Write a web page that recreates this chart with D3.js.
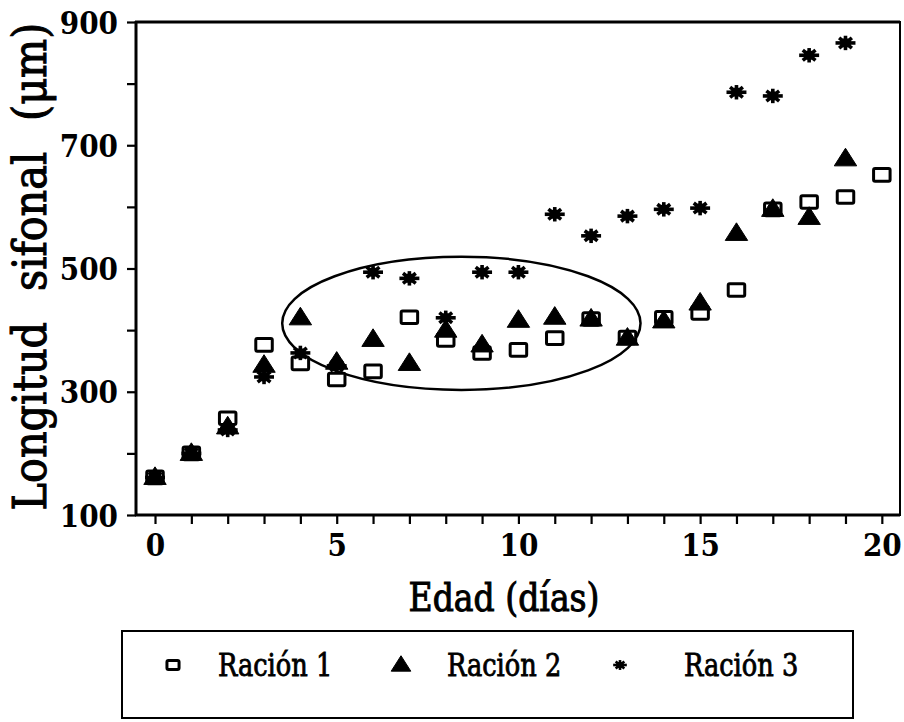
<!DOCTYPE html>
<html>
<head>
<meta charset="utf-8">
<script src="https://cdn.jsdelivr.net/npm/d3@7"></script>
<style>
  html, body { margin: 0; padding: 0; background: #fff; }
  svg { display: block; }
  text { font-family: "DejaVu Serif Condensed", "DejaVu Serif", serif; fill: #000; }
</style>
</head>
<body>
<svg id="chart" width="904" height="722"></svg>
<script>
// ---- data ----
const days = [0,1,2,3,4,5,6,7,8,9,10,11,12,13,14,15,16,17,18,19,20];
const racion1 = [161,200,257,376,346,320,333,421,384,363,368,387,418,388,420,428,465,596,608,616,652];
const racion2 = [161,200,243,343,420,348,385,346,400,376,416,421,418,387,415,444,557,596,583,678];
const racion3 = [161,200,238,324,363,342,494,484,420,494,494,588,553,585,596,598,786,780,846,866];
const seriesNames = ["Ración 1","Ración 2","Ración 3"];
const xTicks = [0,5,10,15,20];
const xMinorTicks = [0,1,2,3,4,5,6,7,8,9,10,11,12,13,14,15,16,17,18,19,20];
const yTicks = [100,300,500,700,900];
const yMinorTicks = [200,400,600,800];
// annotation ellipse (data units): center day, center value, half-width days, half-height value
const ellipseCenter = [8.43, 411];
const ellipseRadii = [4.93, 108];

// ---- layout ----
const svg = d3.select("#chart");
const pL = 136, pR = 900, pT = 22, pB = 515;
const x = d3.scaleLinear().domain([-0.523, 20.5]).range([pL, pR]);
const y = d3.scaleLinear().domain([100, 900]).range([pB, pT]);

// frame
svg.append("rect").attr("x", pL).attr("y", pT)
  .attr("width", pR - pL).attr("height", pB - pT)
  .attr("fill", "none").attr("stroke", "#000").attr("stroke-width", 2);
svg.append("line").attr("x1", pL).attr("x2", pL).attr("y1", pT - 1).attr("y2", pB + 1)
  .attr("stroke", "#000").attr("stroke-width", 3);
svg.append("line").attr("x1", pL - 1).attr("x2", pR).attr("y1", pB).attr("y2", pB)
  .attr("stroke", "#000").attr("stroke-width", 3);
svg.append("line").attr("x1", pL - 1).attr("x2", pR).attr("y1", pT).attr("y2", pT)
  .attr("stroke", "#000").attr("stroke-width", 3);

// x axis
const xAxis = svg.append("g").attr("transform", `translate(0,${pB})`)
  .call(d3.axisBottom(x).tickValues(xMinorTicks).tickSize(9).tickSizeOuter(0)
    .tickFormat(d => xTicks.includes(d) ? d : ""));
xAxis.select(".domain").remove();
xAxis.selectAll(".tick line").attr("stroke-width", 2.2);
xAxis.selectAll(".tick text").attr("font-size", 31).attr("font-weight", "bold")
  .attr("dy", "0.95em");

// y axis
const yAxis = svg.append("g").attr("transform", `translate(${pL},0)`)
  .call(d3.axisLeft(y).tickValues(yTicks.concat(yMinorTicks)).tickSize(9).tickSizeOuter(0)
    .tickFormat(d => yTicks.includes(d) ? d : ""));
yAxis.select(".domain").remove();
yAxis.selectAll(".tick line").attr("stroke-width", 2.2);
yAxis.selectAll(".tick text").attr("font-size", 31).attr("font-weight", "bold")
  .attr("x", -18).attr("dy", "0.36em");

// axis titles
svg.append("text").attr("transform", "translate(504,611) scale(0.92,1)")
  .attr("text-anchor", "middle").attr("font-size", 40)
  .attr("stroke", "#000").attr("stroke-width", 1)
  .text("Edad (días)");
const yTitle = svg.append("text").attr("transform", `translate(46,${(pT + pB) / 2 - 2}) rotate(-90)`)
  .attr("text-anchor", "middle").attr("font-size", 46)
  .attr("stroke", "#000").attr("stroke-width", 1)
  .text("Longitud sifonal (μm)");
{
  const len = yTitle.node().getComputedTextLength();
  const ws = Math.max(0, (488 - len) / 2);
  yTitle.attr("word-spacing", ws);
}

// ellipse annotation
svg.append("ellipse")
  .attr("cx", x(ellipseCenter[0])).attr("cy", y(ellipseCenter[1]))
  .attr("rx", x(ellipseCenter[0] + ellipseRadii[0]) - x(ellipseCenter[0]))
  .attr("ry", y(ellipseCenter[1]) - y(ellipseCenter[1] + ellipseRadii[1]))
  .attr("fill", "none").attr("stroke", "#000").attr("stroke-width", 2.5);

// marker shapes
function drawSquare(g, cx, cy, s) {
  g.append("rect").attr("x", cx - s * 0.55).attr("y", cy - s * 0.42)
    .attr("width", s * 1.1).attr("height", s * 0.84)
    .attr("fill", "#fff").attr("stroke", "#000").attr("stroke-width", 3).attr("rx", 1.5);
}
function drawTriangle(g, cx, cy, s) {
  const w = s * 1.4, h = s * 1.1;
  g.append("path").attr("d", `M${cx},${cy - h * 0.6} L${cx + w / 2},${cy + h * 0.4} L${cx - w / 2},${cy + h * 0.4} Z`)
    .attr("fill", "#000").attr("stroke", "#000").attr("stroke-width", 1);
}
function drawStar(g, cx, cy, s, sw) {
  const r = s * 0.5;
  const grp = g.append("g").attr("stroke", "#000").attr("stroke-width", sw).attr("stroke-linecap", "butt");
  [0, 45, 90, 135].forEach(a => {
    const rad = a * Math.PI / 180;
    const rr = (a === 0) ? r * 1.05 : r * 0.95;
    grp.append("line")
      .attr("x1", cx - rr * Math.cos(rad)).attr("y1", cy - rr * 0.8 * Math.sin(rad))
      .attr("x2", cx + rr * Math.cos(rad)).attr("y2", cy + rr * 0.8 * Math.sin(rad));
  });
  grp.append("ellipse").attr("cx", cx).attr("cy", cy).attr("rx", r * 0.6).attr("ry", r * 0.5)
    .attr("fill", "#000").attr("stroke", "none");
}

const pts = svg.append("g");
racion1.forEach((v, i) => drawSquare(pts, x(days[i]), y(v), 15));
racion2.forEach((v, i) => drawTriangle(pts, x(days[i]), y(v), 16));
racion3.forEach((v, i) => drawStar(pts, x(days[i]), y(v), 19, 3.6));

// legend
const lg = svg.append("g");
lg.append("rect").attr("x", 122).attr("y", 631).attr("width", 731).attr("height", 87)
  .attr("fill", "none").attr("stroke", "#000").attr("stroke-width", 2);
const legendX = [173, 401, 620];
const legendTextX = [218, 447, 684];
const ly = 665;
drawSquare(lg, legendX[0], ly, 11);
drawTriangle(lg, legendX[1], ly, 14);
drawStar(lg, legendX[2], ly, 13, 2.6);
seriesNames.forEach((n, i) => {
  lg.append("text").attr("transform", `translate(${legendTextX[i]},${ly + 11}) scale(0.92,1)`)
    .attr("font-size", 31).attr("stroke", "#000").attr("stroke-width", 0.8).text(n);
});
</script>
</body>
</html>
